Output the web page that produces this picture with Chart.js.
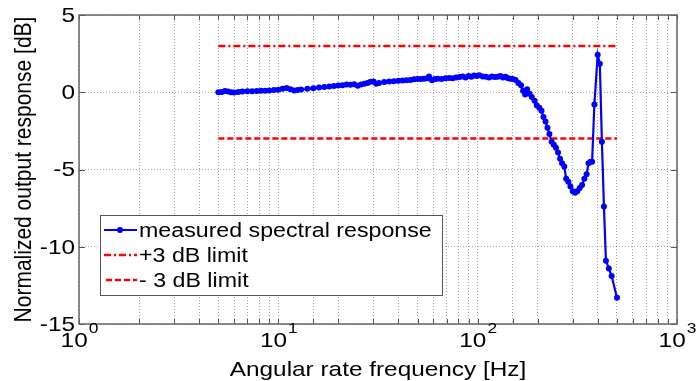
<!DOCTYPE html>
<html>
<head>
<meta charset="utf-8">
<script src="https://cdn.jsdelivr.net/npm/chart.js@4"></script>
<style>
  body { margin: 0; background: #fff; }
</style>
</head>
<body>
<canvas id="chart" width="700" height="381"></canvas>
<script>
var freqHz = [5, 5.2, 5.4, 5.6, 5.8, 6, 6.3, 6.6, 7, 7.4, 7.8, 8.2, 8.6, 9, 9.5,
    10, 10.5, 11, 11.5, 12, 12.5, 13, 14, 15, 16, 17, 18, 19, 20, 21,
    22, 23, 24, 25, 26, 27, 28, 29, 30, 31, 32, 34, 36, 38, 40,
    42, 44, 46, 48, 50, 52, 54, 56, 57, 59, 61, 63, 66, 69, 72,
    75, 78, 81, 84, 87, 90, 93, 96, 99, 102, 106, 110, 114, 118, 122,
    126, 130, 134, 138, 142, 146, 150, 155, 160, 165, 169, 173, 177, 182, 187,
    193, 198, 204, 209, 214, 219, 224, 229, 235, 241, 247, 253, 259, 265, 272,
    278, 285, 292, 300, 308, 316, 325, 334, 343, 352, 360, 368, 375, 385, 400,
    410, 420, 430, 440, 455, 470, 500];
var responseDb = [0.0, 0.02, 0.08, 0.05, 0.0, -0.02, 0.02, 0.05, 0.06, 0.07, 0.08, 0.1, 0.1, 0.12, 0.14,
    0.16, 0.22, 0.28, 0.2, 0.12, 0.15, 0.18, 0.22, 0.26, 0.3, 0.34, 0.38, 0.4, 0.44, 0.46,
    0.5, 0.48, 0.52, 0.42, 0.5, 0.55, 0.6, 0.68, 0.7, 0.55, 0.6, 0.66, 0.7, 0.72, 0.74,
    0.76, 0.78, 0.8, 0.84, 0.86, 0.85, 0.88, 0.9, 1.02, 0.78, 0.85, 0.88, 0.85, 0.9, 0.92,
    0.9, 0.95, 0.98, 1.02, 0.96, 1.05, 1.0, 1.08, 1.05, 1.1, 1.02, 1.0, 0.95, 1.02, 0.98,
    1.0, 1.05, 0.95, 1.0, 0.9, 0.88, 0.85, 0.8, 0.6, 0.45, 0.1, -0.15, 0.2, -0.1, -0.3,
    -0.55, -0.85, -1.0, -1.2, -1.6, -1.9, -2.3, -2.7, -3.2, -3.4, -3.6, -3.9, -4.3, -4.6, -4.8,
    -5.6, -5.8, -6.1, -6.4, -6.5, -6.4, -6.2, -6.0, -5.6, -5.3, -4.6, -4.5, -4.5, -0.8, 2.43,
    1.85, -3.2, -7.4, -10.9, -11.4, -11.9, -13.3];

// limit lines
var limitFreq = [5, 500];
var upperLimit = [3, 3];
var lowerLimit = [-3, -3];

// axes
var xTickExponents = [0, 1, 2, 3];
var yTicks = [-15, -10, -5, 0, 5];

var labels = ["measured spectral response", "+3 dB limit", "- 3 dB limit"];
var xTitle = "Angular rate frequency [Hz]";
var yTitle = "Normalized output response [dB]";

var FONT = '"Liberation Sans", Arial, Helvetica, sans-serif';
var BLUE = '#0000ff';
var RED = '#ff0000';
var STRETCH = 1.16; // the original figure is a bit wider than tall

function toPoints(xs, ys) {
    var out = [];
    for (var i = 0; i < xs.length; i++) out.push({x: xs[i], y: ys[i]});
    return out;
}

function txt(ctx, s, x, y, size, align, base, rot) {
    ctx.save();
    ctx.translate(x, y);
    ctx.scale(STRETCH, 1);
    if (rot) ctx.rotate(rot);
    ctx.font = size + 'px ' + FONT;
    ctx.textAlign = align;
    ctx.textBaseline = base;
    ctx.fillText(s, 0, 0);
    ctx.restore();
}

function txtWidth(ctx, s, size) {
    ctx.font = size + 'px ' + FONT;
    return ctx.measureText(s).width * STRETCH;
}

// box, inward ticks, tick labels, titles, legend
var matlabAxes = {
    id: 'matlabAxes',
    afterDraw: function (chart) {
        var ctx = chart.ctx;
        var a = chart.chartArea;
        var xs = chart.scales.x;
        var ys = chart.scales.y;
        ctx.save();

        // tick marks
        ctx.strokeStyle = '#555';
        ctx.lineWidth = 1;
        ctx.beginPath();
        xs.ticks.forEach(function (t) {
            var px = Math.round(xs.getPixelForValue(t.value)) + 0.5;
            ctx.moveTo(px, a.bottom); ctx.lineTo(px, a.bottom - 5);
            ctx.moveTo(px, a.top); ctx.lineTo(px, a.top + 5);
        });
        yTicks.forEach(function (v) {
            var py = Math.round(ys.getPixelForValue(v)) + 0.5;
            ctx.moveTo(a.left, py); ctx.lineTo(a.left + 6, py);
            ctx.moveTo(a.right, py); ctx.lineTo(a.right - 6, py);
        });
        ctx.stroke();

        // box
        ctx.strokeStyle = '#666';
        ctx.lineWidth = 1.5;
        ctx.strokeRect(a.left, a.top, a.right - a.left, a.bottom - a.top);

        ctx.fillStyle = '#000';
        // y tick labels
        yTicks.forEach(function (v) {
            txt(ctx, String(v), a.left - 4, ys.getPixelForValue(v) + 1, 21, 'right', 'middle');
        });
        // x tick labels 10^n
        xTickExponents.forEach(function (e) {
            var px = xs.getPixelForValue(Math.pow(10, e));
            var wBase = txtWidth(ctx, '10', 21);
            var wExp = txtWidth(ctx, String(e), 15);
            var x0 = px - (wBase + wExp) / 2;
            txt(ctx, '10', x0, 347, 21, 'left', 'alphabetic');
            txt(ctx, String(e), x0 + wBase + 1, 333, 15, 'left', 'alphabetic');
        });

        // axis titles
        txt(ctx, xTitle, (a.left + a.right) / 2, 376, 21, 'center', 'alphabetic');
        txt(ctx, yTitle, 31, (a.top + a.bottom) / 2, 21, 'center', 'alphabetic', -Math.PI / 2);

        // legend
        var lx = 100, ly = 215, lw = 342, lh = 80;
        ctx.fillStyle = '#fff';
        ctx.fillRect(lx, ly, lw, lh);
        ctx.strokeStyle = '#555';
        ctx.lineWidth = 1;
        ctx.strokeRect(lx + 0.5, ly + 0.5, lw, lh);
        var rows = [230, 255, 280];
        ctx.lineWidth = 2;
        ctx.strokeStyle = BLUE;
        ctx.setLineDash([]);
        ctx.beginPath(); ctx.moveTo(104, rows[0]); ctx.lineTo(137, rows[0]); ctx.stroke();
        ctx.fillStyle = BLUE;
        ctx.beginPath(); ctx.arc(120, rows[0], 3, 0, Math.PI * 2); ctx.fill();
        ctx.strokeStyle = RED;
        ctx.lineWidth = 2.5;
        ctx.setLineDash([7, 3, 2, 3]);
        ctx.beginPath(); ctx.moveTo(104, rows[1]); ctx.lineTo(137, rows[1]); ctx.stroke();
        ctx.setLineDash([6, 3]);
        ctx.beginPath(); ctx.moveTo(106, rows[2]); ctx.lineTo(137, rows[2]); ctx.stroke();
        ctx.setLineDash([]);
        ctx.fillStyle = '#000';
        for (var i = 0; i < labels.length; i++) {
            txt(ctx, labels[i], 139, rows[i] + 1, 20, 'left', 'middle');
        }
        ctx.restore();
    }
};

new Chart(document.getElementById('chart').getContext('2d'), {
    type: 'line',
    data: {
        datasets: [{
            label: labels[0],
            data: toPoints(freqHz, responseDb),
            borderColor: BLUE,
            backgroundColor: BLUE,
            borderWidth: 2.2,
            pointRadius: 3,
            pointBorderWidth: 0,
            tension: 0
        }, {
            label: labels[1],
            data: toPoints(limitFreq, upperLimit),
            borderColor: RED,
            borderWidth: 2.5,
            borderDash: [7, 3, 2, 3],
            pointRadius: 0
        }, {
            label: labels[2],
            data: toPoints(limitFreq, lowerLimit),
            borderColor: RED,
            borderWidth: 2.5,
            borderDash: [6, 3],
            pointRadius: 0
        }]
    },
    options: {
        responsive: false,
        animation: false,
        layout: {padding: {left: 0, top: 15, right: 23, bottom: 57}},
        plugins: {legend: {display: false}, tooltip: {enabled: false}},
        scales: {
            x: {
                type: 'logarithmic',
                min: 1,
                max: 1000,
                ticks: {display: false},
                grid: {color: 'rgba(0,0,0,0.35)', lineWidth: 1, drawTicks: false},
                border: {display: false, dash: [1, 2]}
            },
            y: {
                min: -15,
                max: 5,
                afterBuildTicks: function (scale) {
                    scale.ticks = yTicks.map(function (v) { return {value: v}; });
                },
                afterFit: function (scale) { scale.width = 79; },
                ticks: {display: false},
                grid: {color: 'rgba(0,0,0,0.35)', lineWidth: 1, drawTicks: false},
                border: {display: false, dash: [1, 2]}
            }
        }
    },
    plugins: [matlabAxes]
});
</script>
</body>
</html>
